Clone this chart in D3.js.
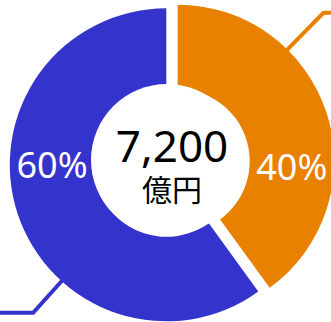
<!DOCTYPE html>
<html>
<head>
<meta charset="utf-8">
<script src="https://cdn.jsdelivr.net/npm/d3@7"></script>
<style>
  html, body { margin: 0; padding: 0; background: #fff; overflow: hidden; }
  svg { display: block; }
</style>
</head>
<body>
<div id="chart"></div>
<script>
// Chart data
var shareLabels = ["40%", "60%"];
var shareValues = [40, 60];
var sliceColors = ["#e88000", "#3434cc"];
var totalValue = "7,200";
var totalUnit = "億円";

// Figure size and donut geometry
var svgWidth = 331;
var svgHeight = 322;
var center = { x: 172, y: 163 };
var outerR = 156.5;
var innerR = 72;
var sliceGap = 6;

// Leader lines and labels (degrees clockwise from top)
var leaderAngles = [44.5, 222];
var leaderReach = [208, 199];
var labelAngles = [93, 270];

var svg = d3.select("#chart")
  .append("svg")
  .attr("width", svgWidth)
  .attr("height", svgHeight);

var pie = d3.pie().sort(null).startAngle(0).endAngle(2 * Math.PI);
var arcs = pie(shareValues);

var arc = d3.arc()
  .innerRadius(innerR)
  .outerRadius(outerR);

var rad = d => d * Math.PI / 180;
var polar = (r, a) => [r * Math.sin(a), -r * Math.cos(a)];

// each slice pushed out along its mid angle
arcs.forEach(function(d) {
  var mid = (d.startAngle + d.endAngle) / 2;
  var p = polar(sliceGap, mid);
  d.cx = center.x + p[0];
  d.cy = center.y + p[1];
});

// leader lines
var line = d3.line();
svg.selectAll(".leader")
  .data(arcs)
  .enter()
  .append("path")
  .attr("class", "leader")
  .attr("fill", "none")
  .attr("stroke", (d, i) => sliceColors[i])
  .attr("stroke-width", 4)
  .attr("d", function(d, i) {
    var a = rad(leaderAngles[i]);
    var s = polar(outerR - 10, a);
    var e = polar(leaderReach[i], a);
    var ex = d.cx + e[0], ey = d.cy + e[1];
    var tail = Math.sin(a) > 0 ? svgWidth + 20 : -20;
    return line([[d.cx + s[0], d.cy + s[1]], [ex, ey], [tail, ey]]);
  });

// slices
svg.selectAll(".slice")
  .data(arcs)
  .enter()
  .append("path")
  .attr("class", "slice")
  .attr("transform", d => `translate(${d.cx}, ${d.cy})`)
  .attr("fill", (d, i) => sliceColors[i])
  .attr("d", arc);

// centre bubble
svg.append("circle")
  .attr("cx", center.x - 5)
  .attr("cy", center.y - 3)
  .attr("r", 76)
  .attr("fill", "#fff");

// percentage labels
svg.selectAll(".pct")
  .data(arcs)
  .enter()
  .append("text")
  .attr("class", "pct")
  .attr("x", (d, i) => d.cx + polar((innerR + outerR) / 2, rad(labelAngles[i]))[0])
  .attr("y", (d, i) => d.cy + polar((innerR + outerR) / 2, rad(labelAngles[i]))[1])
  .attr("dy", "0.36em")
  .attr("text-anchor", "middle")
  .style("font-family", "'Noto Sans', sans-serif")
  .style("font-size", "36px")
  .style("fill", "#fff")
  .text((d, i) => shareLabels[i]);

// total in the middle, two lines in one text
var totalText = svg.append("text")
  .attr("text-anchor", "middle")
  .style("fill", "#000");

totalText.append("tspan")
  .attr("x", center.x)
  .attr("y", center.y - 1.5)
  .style("font-family", "'Noto Sans', 'Noto Sans CJK JP', sans-serif")
  .style("font-size", "44px")
  .text(totalValue);

totalText.append("tspan")
  .attr("x", center.x)
  .attr("y", center.y + 37.5)
  .style("font-family", "'Noto Sans CJK JP', sans-serif")
  .style("font-size", "30px")
  .text(totalUnit);
</script>
</body>
</html>
